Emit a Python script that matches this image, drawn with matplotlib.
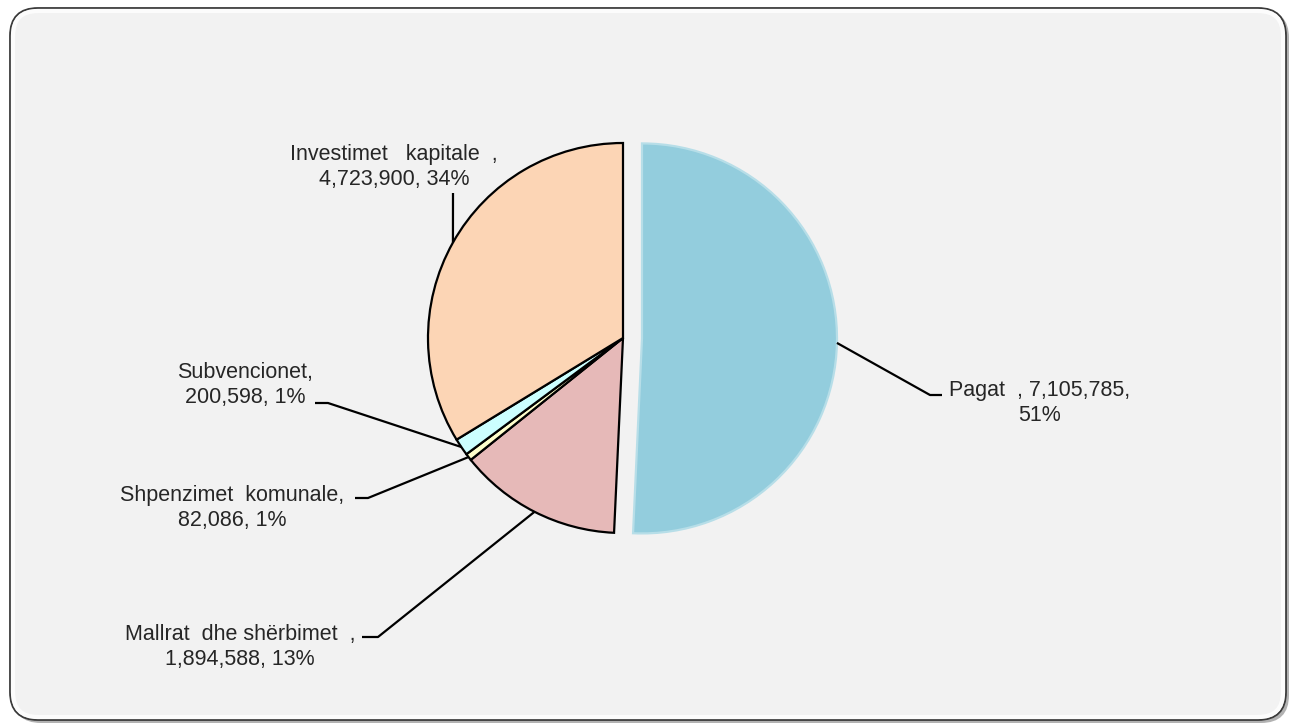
import numpy as np
import matplotlib
matplotlib.use("Agg")
import matplotlib.pyplot as plt
from matplotlib.patches import FancyBboxPatch

plt.rcParams['font.family'] = ['Liberation Sans', 'DejaVu Sans']

# ---- data ----
categories = ["Pagat", "Mallrat dhe shërbimet", "Shpenzimet komunale",
              "Subvencionet", "Investimet kapitale"]
values = [7105785, 1894588, 82086, 200598, 4723900]
percent_labels = ["51%", "13%", "1%", "1%", "34%"]
label_texts = [
    "Pagat  , 7,105,785,\n51%",
    "Mallrat  dhe shërbimet  ,\n1,894,588, 13%",
    "Shpenzimet  komunale,\n82,086, 1%",
    "Subvencionet,\n200,598, 1%",
    "Investimet   kapitale  ,\n4,723,900, 34%",
]
colors = ["#93CDDD", "#E6B9B8", "#FFFFCC", "#CCFFFF", "#FCD5B5"]

W, H = 1290, 724
R = 195
explode = [19, 0, 0, 0, 0]  # offset in pixels (matplotlib uses absolute units)

fig = plt.figure(figsize=(W / 100, H / 100), dpi=100)
fig.patch.set_facecolor("white")
ax = fig.add_axes([0, 0, 1, 1])

def py(y):
    return H - y

cx, cy = 623, py(338)
wedges, _ = ax.pie(values, colors=colors, explode=explode, startangle=90,
                   counterclock=False, radius=R, center=(cx, cy),
                   wedgeprops=dict(edgecolor="black", linewidth=1.6))
for w in wedges:
    w.set_zorder(3)
wedges[0].set_edgecolor("#B7DEE8")
wedges[0].set_linewidth(1.6)

ax.set_xlim(0, W)
ax.set_ylim(0, H)
ax.set_aspect("equal")
ax.axis("off")

# background rounded panel with shadow
shadow = FancyBboxPatch((13, py(723)), 1276, 713,
                        boxstyle="round,pad=0,rounding_size=28",
                        facecolor="#7f7f7f", edgecolor="none", alpha=0.6, zorder=0)
ax.add_patch(shadow)
panel = FancyBboxPatch((10, py(720)), 1276, 712,
                       boxstyle="round,pad=0,rounding_size=28",
                       facecolor="#F2F2F2", edgecolor="#3a3a3a", linewidth=1.3, zorder=1)
ax.add_patch(panel)
glow = FancyBboxPatch((13, py(717)), 1270, 706,
                      boxstyle="round,pad=0,rounding_size=25",
                      facecolor="none", edgecolor="white", linewidth=3, alpha=0.8, zorder=1.5)
ax.add_patch(glow)

# label positions (text block centers, pixel coords) and leader elbows
label_pos = [(1040, 403), (240, 647), (232, 508), (245, 385), (394, 167)]
elbows = [[(930, 395), (942, 395)],
          [(378, 637), (362, 637)],
          [(368, 498), (355, 498)],
          [(328, 403), (315, 403)],
          [(453, 193)]]

for w, txt, pos, elb in zip(wedges, label_texts, label_pos, elbows):
    ang = np.deg2rad((w.theta1 + w.theta2) / 2)
    x0, y0 = w.center
    ax_x = x0 + R * np.cos(ang)
    ax_y = y0 + R * np.sin(ang)
    xs = [ax_x] + [e[0] for e in elb]
    ys = [ax_y] + [py(e[1]) for e in elb]
    ax.plot(xs, ys, color="black", linewidth=1.6, zorder=4, solid_capstyle="butt")
    ax.text(pos[0], py(pos[1]), txt, ha="center", va="center", fontsize=15.5,
            color="#262626", linespacing=1.22, zorder=5)

fig.savefig("out.png", dpi=100, facecolor="white")
